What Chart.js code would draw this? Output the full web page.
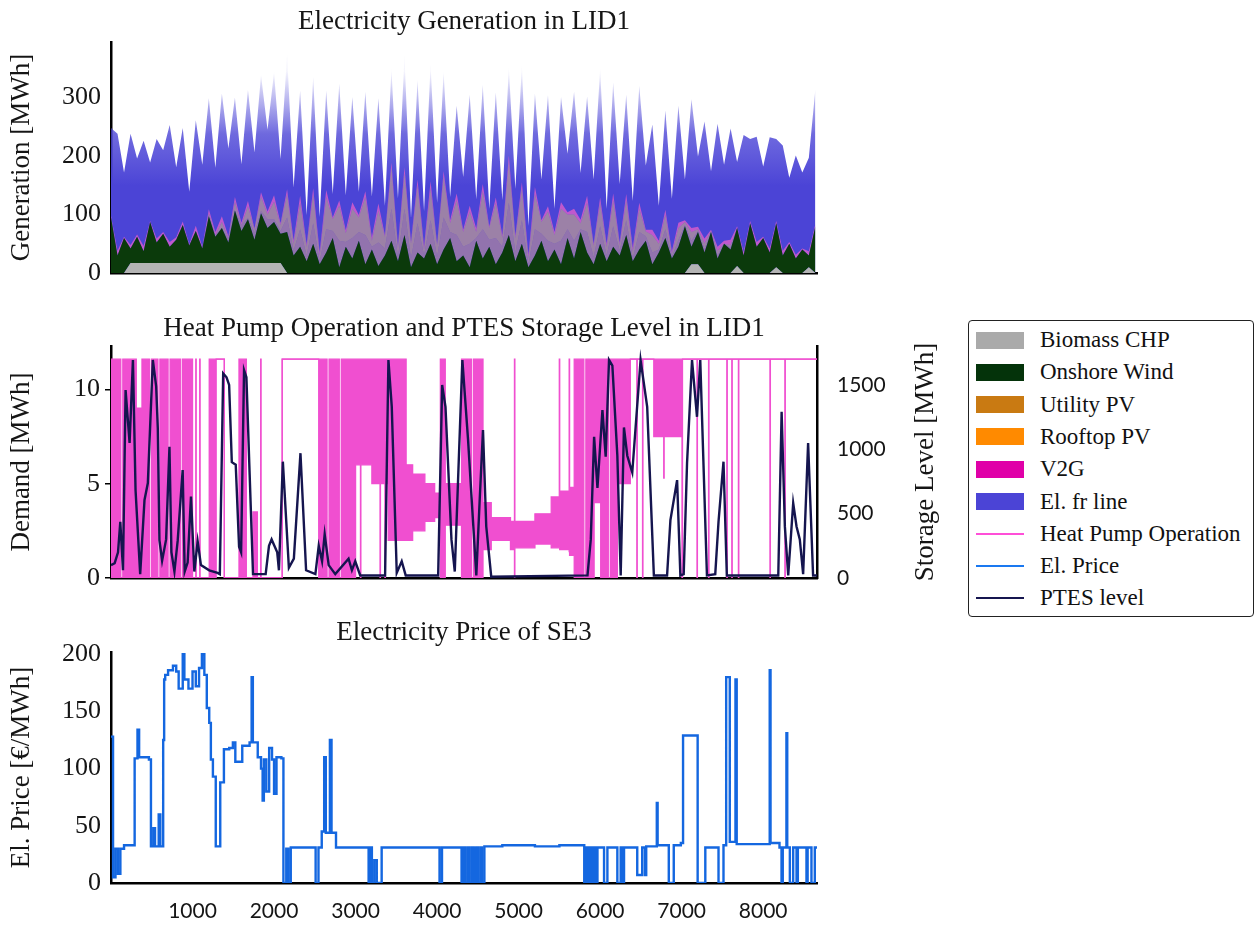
<!DOCTYPE html>
<html>
<head>
<meta charset="utf-8">
<script src="https://cdn.jsdelivr.net/npm/chart.js@4.4.1/dist/chart.umd.min.js"></script>
<style>
  body { margin: 0; background: #fff; }
  #wrap { position: relative; width: 1256px; height: 926px; background: #fff; overflow: hidden; }
  canvas { position: absolute; left: 0; }
  #c1 { top: 0; }
  #c2 { top: 295px; }
  #c3 { top: 600px; }
  #legend {
    position: absolute; left: 968px; top: 320px; width: 286px; height: 297px;
    border: 1.5px solid #222; border-radius: 4px; box-sizing: border-box;
    font-family: "Liberation Serif", "Times New Roman", serif; font-size: 23px; color: #111;
  }
  .row { position: absolute; left: 7px; height: 32px; display: flex; align-items: center; white-space: nowrap; }
  .sw { width: 48px; height: 17px; margin-right: 16px; box-sizing: border-box; }
  .ln { width: 48px; height: 0; border-top: 2px solid; margin-right: 16px; }
</style>
</head>
<body>
<div id="wrap">
  <canvas id="c1" width="960" height="299"></canvas>
  <canvas id="c2" width="960" height="316"></canvas>
  <canvas id="c3" width="960" height="326"></canvas>
  <div id="legend"></div>
</div>
<script>
// ---- tick labels ----
const genTicks = [0, 100, 200, 300];
const demandTicks = [0, 5, 10];
const storageTicks = [0, 500, 1000, 1500];
const priceTicks = [0, 50, 100, 150, 200];
const hourTicks = [1000, 2000, 3000, 4000, 5000, 6000, 7000, 8000];

// ---- generation (LID1), sampled every 80 h ----
const genHours = [];
for (let h = 0; h <= 8640; h += 80) genHours.push(h);

const biomassCHP = [0,0,0,17,17,17,17,17,17,17,17,17,17,17,17,17,17,17,17,17,17,17,17,17,17,17,17,
  0,0,0,0,0,0,0,0,0,0,0,0,0,0,0,0,0,0,0,0,0,0,0,0,0,0,0,0,0,0,0,0,0,0,0,0,0,0,0,0,0,0,0,0,0,0,0,0,0,0,0,0,0,0,0,0,0,0,0,0,0,0,
  15,15,0,0,0,0,0,12,0,0,0,0,0,10,0,0,0,0,10,0,0];
const onshoreWind = [95,30,60,25,45,20,70,35,50,28, 40,65,30,55,25,80,45,60,35,90,
  55,75,40,85,60,70,50,70,30,45, 20,50,15,35,60,10,45,25,55,15, 40,12,30,55,20,65,10,35,25,50,
  15,40,60,20,30,10,55,25,45,15, 35,65,20,50,10,30,55,20,40,15, 60,25,70,35,15,50,20,45,30,65,
  20,40,55,15,35,60,25,45,80,30, 55,35,70,25,50,40,65,30,85,45, 60,35,75,30,50,25,40,20,80];
const utilityPV = [0,0,0,0,0,0,0,0,0,0,0,0,0,0,0, 0,3,0,6,0,10,2,12,4,15,5,
  5,25,8,30,10,35,5,40,12,45, 8,35,15,50,5,40,12,55,8,45, 15,50,5,40,12,55,10,45,15,40,
  5,50,12,45,10,55,15,40,5,45, 12,35,10,40,15,30,5,35,12,30, 10,35,8,25,5,30,8,20,5,15,
  3,12,2,10,2,6,0,5,0,3, 0,0,0,0,0,0,0,0,0,0,0,0,0];
const rooftopPV = [0,0,0,0,0,0,0,0,0,0,0,0,0,0,0, 5,0,10,2,15,0,20,5,25,8,30,
  10,40,12,45,15,50,10,55,20,60, 15,50,25,65,10,55,20,70,15,60, 25,65,10,55,20,70,15,60,25,55,
  10,65,20,60,15,70,25,55,10,60, 20,50,15,55,25,45,10,50,20,40, 15,45,10,35,12,40,8,30,10,25,
  5,20,5,15,3,10,2,8,0,5, 0,0,0,0,0,0,0,0,0,0,0,0,0];
const v2g = [3,8,2,6,4,9,2,7,3,8, 4,6,2,9,3,7,5,10,3,8, 4,9,2,7,5,11,3,8,6,12, 4,10,6,12,3,9,5,11,4,10,
  6,12,3,9,5,11,4,10,6,12, 3,9,5,11,4,10,6,12,3,9, 5,11,4,10,6,12,3,9,5,11, 4,10,6,12,3,9,5,11,4,10,
  6,10,3,9,5,8,4,9,3,7, 4,8,2,7,5,9,3,6,4,8, 2,7,4,8,3,6,2,7,4];
const elFromLine = [150,200,110,190,130,180,100,170,140,200, 120,160,90,180,140,190,110,210,150,170,
  100,190,130,200,140,210,110,230,90,180, 50,190,60,170,40,200,60,180,40,170, 70,180,50,160,80,190,40,170,60,200,
  70,170,40,150,90,190,50,170,30,180, 60,150,80,200,50,160,70,190,40,180, 100,200,80,170,110,220,60,190,100,170,
  80,200,110,180,60,170,90,200,70,220, 120,200,100,210,130,190,110,200,140,180, 120,190,140,180,110,170,130,160,230];

// ---- heat pump (stepped: value holds until next hour); high/low envelope of fast switching ----
const hpHours = [0,120,145,310,380,470,495,575,600,700,725,850,875,1000,1040,1045,1088,1093,1205,1290,1390,1570,1660,1742,1795,1836,1841,
  2100,2548,2650,2675,2800,2825,3000,3060,3065,3200,3300,3305,3360,3365,3400,3620,3700,3850,3970,4040,4100,4300,4420,4445,4563,4664,4900,
  4949,4954,5200,5400,5499,5504,5620,5625,5682,5800,5825,5926,6007,6100,6125,6211,6370,6450,6455,6520,6525,6658,6780,6785,
  7004,7010,7188,7193,7330,7335,7554,7559,7615,7620,7696,7701,8083,8088,8266,8271,8660];
const hpHigh = [11.6,0,11.6,9,11.6,0,11.6,0,11.6,0,11.6,0,11.6,0,11.6,0,11.6,0,11.6,11.6,0,11.6,0,3.5,0,11.6,0,
  11.6,11.6,0,11.6,0,11.6,11.6,11.6,11.6,11.6,11.6,11.6,11.6,11.6,11.6,6,5.5,5,4.5,11.6,5,11.6,0,11.6,4,3.2,3,
  11.6,3,3.4,4.3,11.6,4.6,11.6,4.8,11.6,0,11.6,11.6,11.6,0,11.6,11.6,11.6,11.6,11.6,11.6,11.6,11.6,11.6,11.6,
  11.6,11.6,11.6,11.6,11.6,11.6,11.6,11.6,11.6,11.6,11.6,11.6,11.6,11.6,11.6,11.6,11.6];
const hpLow = [0,0,0,0,0,0,0,0,0,0,0,0,0,0,0,0,0,0,0,11.6,0,0,0,0,0,0,0,
  11.6,0,0,0,0,0,6,0,6,5,0,5,0,5,2,2,2.5,3,3.2,0,2.8,0,0,0,1.5,2,1.5,
  0,1.6,1.8,1.6,1.6,1.5,1.4,1.2,0,0,0,4,0,0,0,5,11.6,0,11.6,0,11.6,7.5,5.3,7.5,
  0,11.6,0,11.6,0,11.6,0,11.6,0,11.6,0,11.6,0,11.6,0,11.6,11.6];

// ---- PTES storage level ----
const ptesHours = [0,45,86,114,147,179,228,269,301,358,411,452,513,554,574,594,627,676,717,741,778,818,879,904,940,981,
  1022,1063,1103,1205,1307,1335,1376,1417,1449,1482,1530,1571,1596,1632,1661,1701,1742,1897,1938,1970,2039,2060,
  2108,2182,2243,2324,2393,2507,2548,2589,2621,2670,2751,2914,2955,2996,3057,3362,3403,3444,3505,3566,3615,
  4013,4062,4103,4176,4217,4310,4380,4481,4522,4563,4603,4664,5845,5885,5926,5967,6028,6068,6109,6150,6211,
  6252,6292,6333,6394,6496,6577,6659,6821,6862,6944,6984,7025,7066,7127,7188,7228,7310,7412,7452,7513,7554,
  8185,8226,8266,8307,8368,8409,8449,8490,8551,8612,8660];
const ptesLevel = [100,115,200,437,60,1461,1049,1694,684,30,606,738,1694,1490,1165,295,135,300,1020,200,50,290,839,50,120,632,
  50,285,100,60,40,30,1590,1560,1500,900,880,243,200,1616,1560,800,30,30,250,300,200,60,
  904,80,150,970,60,30,250,130,340,100,30,150,60,130,20,20,1694,1330,40,130,20,
  20,1500,1330,300,50,1694,1072,20,600,1150,400,10,20,300,1098,700,1305,942,1694,1650,950,
  20,1170,950,820,1694,1330,20,20,450,761,20,30,893,1694,1253,1694,20,30,437,904,20,
  20,1292,399,20,582,400,300,30,1049,20,20];

// ---- electricity price SE3 (stepped) ----
const priceHours = [0,25,55,85,115,160,290,325,345,465,490,520,540,585,605,640,652,665,700,760,800,830,880,900,950,1000,
  1040,1080,1115,1145,1175,1205,1225,1250,1285,1340,1385,1450,1495,1525,1610,1700,1725,1740,1800,1840,1860,1875,
  1905,1940,1975,2000,2030,2090,2115,2150,2175,2205,2510,2545,2585,2615,2635,2685,2705,2760,3160,3180,3200,3230,
  3260,3320,4030,4060,4300,4325,4350,4380,4400,4430,4450,4480,4500,4530,4550,4580,4800,5200,5500,5805,5830,5850,
  5875,5900,5926,5947,5967,6048,6089,6211,6252,6272,6293,6455,6516,6550,6565,6695,6705,6842,6903,6990,7017,7196,
  7290,7452,7513,7546,7590,7660,7675,8080,8090,8200,8225,8240,8285,8295,8327,8368,8409,8425,8531,8545,8592,8633,8660];
const priceValues = [128,5,30,8,30,33,109,134,110,108,32,48,32,60,32,125,178,182,186,190,185,170,200,178,170,185,
  172,188,200,182,153,140,108,93,32,88,117,118,123,106,120,123,180,123,110,100,72,108,
  80,118,108,78,110,109,0,30,0,31,0,31,45,110,44,125,44,31,0,31,0,20,
  0,31,0,31,0,31,0,31,0,31,0,31,0,31,0,32,33,32,33,0,31,0,
  31,0,31,0,31,0,31,0,31,0,31,7,31,7,32,70,33,0,33,35,129,0,
  31,0,33,180,36,178,34,186,35,31,0,31,131,31,0,31,0,31,0,31,0,31,31];

const SERIF = '"Liberation Serif", "Times New Roman", serif';
const SANS = 'Lato, "Liberation Sans", sans-serif';
Chart.defaults.font.family = SERIF;
Chart.defaults.color = '#151515';
Chart.defaults.animation = false;

const toXY = (xs, ys) => xs.map((x, i) => ({ x: x, y: ys[i] }));
const useTicks = (list) => (scale) => { scale.ticks = list.map(v => ({ value: v })); };
const titleOpts = (text, top, bottom) => ({
  display: true, text: text, fullSize: false, color: '#151515',
  font: { family: SERIF, size: 27, weight: 'normal' }, padding: { top: top, bottom: bottom }
});
const axisTitle = (text) => ({ display: true, text: text, color: '#151515',
  font: { family: SERIF, size: 27 }, padding: { top: 6, bottom: 0 } });
const hourAxis = (height, showTicks) => ({
  type: 'linear', min: 0, max: 8660,
  grid: { display: false, drawTicks: false },
  border: { display: true, color: '#000', width: 2.5 },
  ticks: showTicks ? {
    display: true, autoSkip: false, padding: 16, color: '#151515', maxRotation: 0,
    font: { family: SANS, size: 21 }, callback: v => String(v)
  } : { display: false },
  afterBuildTicks: useTicks(hourTicks),
  afterFit: s => { s.height = height; }
});

function areaSet(label, values, color, fill) {
  return { label: label, data: toXY(genHours, values), backgroundColor: color, borderWidth: 0,
    pointRadius: 0, fill: fill, tension: 0 };
}
function blueFill(ctx) {
  const chart = ctx.chart;
  if (!chart.chartArea) return '#4b44d6';
  const y = chart.scales.y;
  const g = chart.ctx.createLinearGradient(0, y.getPixelForValue(150), 0, y.getPixelForValue(345));
  g.addColorStop(0, 'rgba(75,68,214,1)');
  g.addColorStop(0.45, 'rgba(75,68,214,0.8)');
  g.addColorStop(1, 'rgba(75,68,214,0.05)');
  return g;
}

// top: stacked generation (the grid-connection layer is filled down to zero so the
// translucent PV / V2G layers show as tinted streaks over it)
new Chart(document.getElementById('c1'), {
  type: 'line',
  data: { datasets: [
    areaSet('Biomass CHP', biomassCHP, '#b4b4b4', 'origin'),
    areaSet('Onshore Wind', onshoreWind, '#0b3a0b', '-1'),
    areaSet('Utility PV', utilityPV, 'rgba(245,180,120,0.42)', '-1'),
    areaSet('Rooftop PV', rooftopPV, 'rgba(255,205,110,0.45)', '-1'),
    areaSet('V2G', v2g, 'rgba(255,100,200,0.65)', '-1'),
    areaSet('El. fr line', elFromLine, blueFill, 'origin')
  ] },
  options: {
    responsive: false,
    layout: { padding: { right: 143 } },
    plugins: { legend: { display: false }, tooltip: { enabled: false },
      title: titleOpts('Electricity Generation in LID1', 6, 3.6) },
    scales: {
      x: hourAxis(26, false),
      y: {
        stacked: true, min: 0, max: 395,
        grid: { display: false, drawTicks: false },
        border: { display: true, color: '#000', width: 2.5 },
        ticks: { autoSkip: false, padding: 10, font: { family: SERIF, size: 26 }, callback: v => String(v) },
        afterBuildTicks: useTicks(genTicks),
        title: axisTitle('Generation [MWh]'),
        afterFit: s => { s.width = 111; }
      }
    }
  }
});

// middle: heat pump + PTES
const rightTitle = {
  id: 'rightTitle',
  afterDraw(chart) {
    const a = chart.chartArea, c = chart.ctx;
    c.save();
    c.translate(926, (a.top + a.bottom) / 2);
    c.rotate(-Math.PI / 2);
    c.font = '27px ' + SERIF;
    c.fillStyle = '#151515';
    c.textAlign = 'center';
    c.textBaseline = 'middle';
    c.fillText('Storage Level [MWh]', 0, 0);
    c.restore();
  }
};
const HP_PINK = '#f04fd0';
new Chart(document.getElementById('c2'), {
  type: 'line',
  data: { datasets: [
    { label: 'PTES level', data: toXY(ptesHours, ptesLevel), yAxisID: 'y2', borderColor: '#15154f',
      borderWidth: 2.4, pointRadius: 0, fill: false, tension: 0 },
    { label: 'Heat Pump Operation', data: toXY(hpHours, hpHigh), yAxisID: 'y', stepped: true,
      borderColor: HP_PINK, borderWidth: 1.3, pointRadius: 0, fill: false },
    { label: 'Heat Pump Operation (low)', data: toXY(hpHours, hpLow), yAxisID: 'y', stepped: true,
      borderColor: HP_PINK, borderWidth: 1.3, pointRadius: 0, fill: '-1', backgroundColor: HP_PINK }
  ] },
  options: {
    responsive: false,
    plugins: { legend: { display: false }, tooltip: { enabled: false },
      title: titleOpts('Heat Pump Operation and PTES Storage Level in LID1', 17.8, 0.8) },
    scales: {
      x: hourAxis(33, false),
      y: {
        position: 'left', min: 0, max: 12.3,
        grid: { display: true, drawOnChartArea: false, drawTicks: true, tickLength: 6, color: '#000', lineWidth: 1.5 },
        border: { display: true, color: '#000', width: 2.5 },
        ticks: { autoSkip: false, padding: 5, font: { family: SERIF, size: 26 }, callback: v => String(v) },
        afterBuildTicks: useTicks(demandTicks),
        title: axisTitle('Demand [MWh]'),
        afterFit: s => { s.width = 111; }
      },
      y2: {
        position: 'right', min: 0, max: 1803,
        grid: { display: false, drawTicks: false },
        border: { display: true, color: '#000', width: 2.5 },
        ticks: { autoSkip: false, padding: 20, font: { family: SANS, size: 21 }, callback: v => String(v) },
        afterBuildTicks: useTicks(storageTicks),
        afterFit: s => { s.width = 143; }
      }
    }
  },
  plugins: [rightTitle]
});

// bottom: electricity price
new Chart(document.getElementById('c3'), {
  type: 'line',
  data: { datasets: [
    { label: 'El. Price', data: toXY(priceHours, priceValues), stepped: true, borderColor: '#1467e0',
      borderWidth: 2.4, pointRadius: 0, fill: false }
  ] },
  options: {
    responsive: false,
    layout: { padding: { right: 143 } },
    plugins: { legend: { display: false }, tooltip: { enabled: false },
      title: titleOpts('Electricity Price of SE3', 16.8, 2.8) },
    scales: {
      x: hourAxis(43, true),
      y: {
        min: 0, max: 202,
        grid: { display: false, drawTicks: false },
        border: { display: true, color: '#000', width: 2.5 },
        ticks: { autoSkip: false, padding: 10, font: { family: SERIF, size: 26 }, callback: v => String(v) },
        afterBuildTicks: useTicks(priceTicks),
        title: axisTitle('El. Price [€/MWh]'),
        afterFit: s => { s.width = 111; }
      }
    }
  }
});

// legend
const legendItems = [
  ['Biomass CHP', 'patch', '#aaaaaa'],
  ['Onshore Wind', 'patch', '#04330a'],
  ['Utility PV', 'patch', '#c97a12'],
  ['Rooftop PV', 'patch', '#ff8a00'],
  ['V2G', 'patch', '#e000a8'],
  ['El. fr line', 'patch', '#4b44d6'],
  ['Heat Pump Operation', 'line', '#ff4fd8'],
  ['El. Price', 'line', '#1a78f0'],
  ['PTES level', 'line', '#15154f']
];
const legendEl = document.getElementById('legend');
legendItems.forEach((it, i) => {
  const row = document.createElement('div');
  row.className = 'row';
  row.style.top = (3 + i * 32.3) + 'px';
  const mark = document.createElement('div');
  if (it[1] === 'patch') {
    mark.className = 'sw';
    mark.style.background = it[2];
  } else {
    mark.className = 'ln';
    mark.style.borderTopColor = it[2];
  }
  const txt = document.createElement('span');
  txt.textContent = it[0];
  row.appendChild(mark);
  row.appendChild(txt);
  legendEl.appendChild(row);
});
</script>
</body>
</html>
